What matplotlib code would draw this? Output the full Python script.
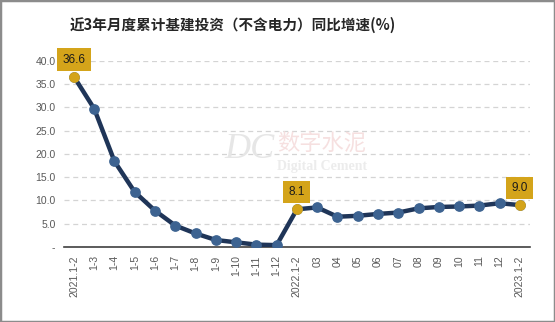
import matplotlib
matplotlib.use('Agg')
import matplotlib.pyplot as plt
from matplotlib.patches import Rectangle

plt.rcParams['font.family'] = ['Liberation Sans', 'Noto Sans CJK SC', 'DejaVu Sans']

# monthly cumulative YoY growth of infrastructure investment (excl. power), %
periods = ['2021.1-2', '1-3', '1-4', '1-5', '1-6', '1-7', '1-8', '1-9', '1-10', '1-11', '1-12',
           '2022.1-2', '03', '04', '05', '06', '07', '08', '09', '10', '11', '12',
           '2023.1-2']
growth = [36.6, 29.7, 18.4, 11.8, 7.8, 4.6, 2.9, 1.5, 1.0, 0.5, 0.4,
          8.1, 8.5, 6.5, 6.7, 7.1, 7.4, 8.3, 8.6, 8.7, 8.9, 9.4,
          9.0]
labelled = [0, 11, 22]
y_ticks = [0, 5, 10, 15, 20, 25, 30, 35, 40]

line_color = '#1f3558'
dot_color = '#3d6391'
gold = '#d4a41a'

fig = plt.figure(figsize=(5.55, 3.22), dpi=100)
fig.patches.append(Rectangle((0, 0), 1, 1, transform=fig.transFigure, fill=False,
                             edgecolor='#8c8c8c', linewidth=2.5))
ax = fig.add_axes([0.115, 0.233, 0.84, 0.578])

x = list(range(len(growth)))
ax.plot(x, growth, color=line_color, linewidth=3.2, zorder=3, solid_capstyle='round')
ax.scatter(x, growth, s=45, color=dot_color, zorder=4)
ax.scatter([x[i] for i in labelled], [growth[i] for i in labelled], s=45, color=gold, zorder=5)

for i in labelled:
    ax.annotate(f'{growth[i]:.1f}', (x[i], growth[i]), xytext=(0, 8), textcoords='offset points',
                ha='center', va='bottom', fontsize=8.5, color='#1a1a1a', zorder=6,
                bbox=dict(boxstyle='square,pad=0.45', facecolor=gold, edgecolor='none'))

ax.set_xlim(-0.5, len(growth) - 0.5)
ax.set_ylim(0, 40)
ax.set_yticks(y_ticks)
ax.set_yticklabels(['-' if v == 0 else f'{v:.1f}' for v in y_ticks])
ax.set_xticks(x)
ax.set_xticklabels(periods, rotation=90)
ax.tick_params(axis='both', length=0, labelsize=7.5, colors='#595959')
ax.tick_params(axis='y', pad=6)
ax.tick_params(axis='x', pad=6)

ax.grid(axis='y', linestyle=(0, (4, 3)), color='#d4d4d4', linewidth=0.9)
ax.set_axisbelow(True)
for side in ['top', 'right', 'left']:
    ax.spines[side].set_visible(False)
ax.spines['bottom'].set_color('#404040')
ax.spines['bottom'].set_linewidth(1.2)

# faint watermark
fig.text(0.45, 0.535, 'DC', fontsize=26, color='#e6e6e6', family='Liberation Serif',
         style='italic', ha='center', va='center')
fig.text(0.58, 0.555, '数字水泥', fontsize=16, color='#f6e0e0',
         family=['Noto Sans CJK SC'], ha='center', va='center')
fig.text(0.58, 0.484, 'Digital Cement', fontsize=10, color='#ececec',
         family='Liberation Serif', weight='bold', ha='center', va='center')

fig.text(0.126, 0.922, '近3年月度累计基建投资（不含电力）同比增速(%)', fontsize=10.5, weight='bold',
         family=['Noto Sans CJK SC', 'DejaVu Sans'], color='#262626', ha='left', va='center')

fig.savefig('out.png', dpi=100)
